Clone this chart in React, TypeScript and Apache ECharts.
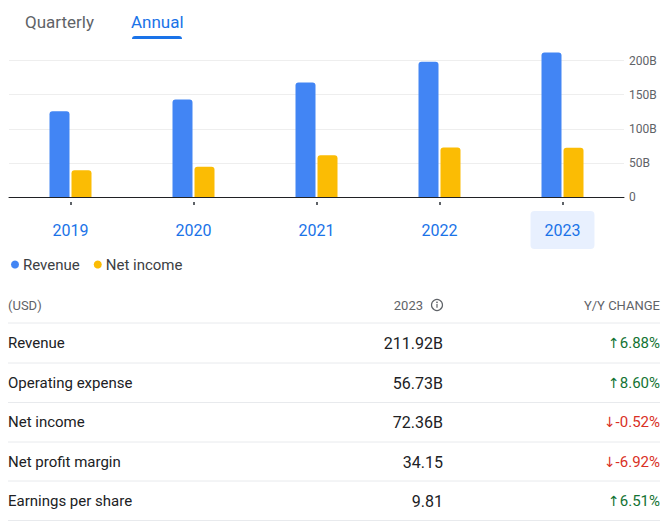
import React, { useEffect, useRef } from "react";
import * as echarts from "echarts";

const years = ["2019", "2020", "2021", "2022", "2023"];
const revenue = [125.84, 143.02, 168.09, 198.27, 211.92];
const netIncome = [39.24, 44.28, 61.27, 72.74, 72.36];
const selectedYear = "2023";
const tabs = ["Quarterly", "Annual"];
const legendNames = ["Revenue", "Net income"];
const tableHeader = ["(USD)", "2023", "Y/Y CHANGE"];
const metricNames = ["Revenue", "Operating expense", "Net income", "Net profit margin", "Earnings per share"];
const metricValues = ["211.92B", "56.73B", "72.36B", "34.15", "9.81"];
const metricChanges = [6.88, 8.6, -0.52, -6.92, 6.51];

const FONT = "Roboto, 'Noto Sans', sans-serif";

export default function App() {
  const ref = useRef<HTMLDivElement>(null);
  useEffect(() => {
    if (!ref.current) return;
    const chart = echarts.init(ref.current, null, { renderer: "svg" });

    const rowY = [343, 383, 422, 462, 501];
    const lineY = [323, 363, 402.5, 442, 481, 520.5];

    const graphics: any[] = [];
    // tabs
    graphics.push({
      type: "text", x: 25, y: 22,
      style: { text: tabs[0], fill: "#5f6368", fontSize: 17, fontFamily: FONT, align: "left", verticalAlign: "middle", textAlign: "left", textVerticalAlign: "middle" },
    });
    graphics.push({
      type: "text", x: 131, y: 22,
      style: { text: tabs[1], fill: "#1a73e8", fontSize: 17, fontFamily: FONT, align: "left", verticalAlign: "middle", textAlign: "left", textVerticalAlign: "middle" },
    });
    graphics.push({
      type: "rect", shape: { x: 132, y: 36, width: 50, height: 3, r: [3, 3, 0, 0] },
      style: { fill: "#1a73e8" },
    });
    // table header
    const hdrStyle = { fill: "#5f6368", fontSize: 13, fontFamily: FONT, verticalAlign: "middle", textVerticalAlign: "middle" };
    graphics.push({ type: "text", x: 8, y: 305, style: { ...hdrStyle, text: tableHeader[0], align: "left", textAlign: "left" } });
    graphics.push({ type: "text", x: 423, y: 305, style: { ...hdrStyle, text: tableHeader[1], align: "right", textAlign: "right" } });
    graphics.push({ type: "text", x: 660, y: 305, style: { ...hdrStyle, text: tableHeader[2], align: "right", textAlign: "right" } });
    // info icon
    graphics.push({ type: "circle", shape: { cx: 437, cy: 305, r: 5.5 }, style: { fill: "none", stroke: "#5f6368", lineWidth: 1.2 } });
    graphics.push({ type: "rect", shape: { x: 436.4, y: 304, width: 1.2, height: 3.8 }, style: { fill: "#5f6368" } });
    graphics.push({ type: "circle", shape: { cx: 437, cy: 302.3, r: 0.8 }, style: { fill: "#5f6368" } });
    // separators
    lineY.forEach((y) => {
      graphics.push({ type: "line", shape: { x1: 8, y1: y, x2: 660, y2: y }, style: { stroke: "#e8eaed", lineWidth: 1 } });
    });
    // rows
    metricNames.forEach((name, i) => {
      const y = rowY[i];
      graphics.push({ type: "text", x: 8, y, style: { text: name, fill: "#202124", fontSize: 15, fontFamily: FONT, align: "left", verticalAlign: "middle", textAlign: "left", textVerticalAlign: "middle" } });
      graphics.push({ type: "text", x: 443, y, style: { text: metricValues[i], fill: "#202124", fontSize: 16, fontFamily: FONT, align: "right", verticalAlign: "middle", textAlign: "right", textVerticalAlign: "middle" } });
      const c = metricChanges[i];
      const up = c >= 0;
      const color = up ? "#137333" : "#d93025";
      const txt = `{ar|${up ? "\u2191" : "\u2193"}}{v|${c.toFixed(2)}%}`;
      graphics.push({
        type: "text", x: 660, y,
        style: {
          text: txt, fill: color, fontSize: 15, fontFamily: FONT, align: "right", verticalAlign: "middle", textAlign: "right", textVerticalAlign: "middle",
          rich: {
            ar: { fill: color, fontSize: 14, fontFamily: "'DejaVu Sans', sans-serif" },
            v: { fill: color, fontSize: 15, fontFamily: FONT },
          },
        },
      });
    });

    chart.setOption({
      animation: false,
      backgroundColor: "#ffffff",
      textStyle: { fontFamily: FONT },
      grid: { left: 9, right: 45, top: 47, bottom: 325, containLabel: false },
      legend: {
        data: legendNames,
        left: 6, top: 252,
        icon: "circle", itemWidth: 8, itemHeight: 8, itemGap: 14,
        textStyle: { color: "#3c4043", fontSize: 15, fontFamily: FONT, padding: [0, 0, 0, -1] },
      },
      xAxis: [
        {
          type: "category",
          data: years,
          axisLine: { show: true, lineStyle: { color: "#202124", width: 1 } },
          axisTick: { show: false },
          axisLabel: {
            margin: 25,
            formatter: (v: string) => (v === selectedYear ? `{sel|${v}}` : `{a|${v}}`),
            rich: {
              a: { color: "#1a73e8", fontSize: 16, fontFamily: FONT, padding: [11, 14, 11, 14], lineHeight: 16 },
              sel: { color: "#1a73e8", fontSize: 16, fontFamily: FONT, padding: [11, 14, 11, 14], lineHeight: 16, backgroundColor: "#e8f0fe", borderRadius: 4 },
            },
          },
        },
        {
          type: "category",
          data: years,
          position: "bottom",
          offset: 5,
          axisLine: { show: false },
          axisTick: { show: true, alignWithLabel: true, length: 3, lineStyle: { color: "#5f6368", width: 2 } },
          axisLabel: { show: false },
        },
      ],
      yAxis: {
        type: "value",
        position: "right",
        min: 0,
        max: 220,
        interval: 50,
        axisLine: { show: false },
        axisTick: { show: false },
        splitLine: { show: true, showMaxLine: false, lineStyle: { color: "#eeeeee", width: 1 } },
        axisLabel: {
          margin: 5,
          showMaxLabel: false,
          color: "#5f6368",
          fontSize: 12,
          fontFamily: FONT,
          formatter: (v: number) => (v === 0 ? "0" : `${v}B`),
        },
      },
      series: [
        {
          name: legendNames[0],
          type: "bar",
          data: revenue,
          barWidth: 20,
          barGap: "10%",
          itemStyle: { color: "#4285f4", borderRadius: [3, 3, 0, 0] },
        },
        {
          name: legendNames[1],
          type: "bar",
          data: netIncome,
          barWidth: 20,
          barGap: "10%",
          itemStyle: { color: "#fbbc04", borderRadius: [3, 3, 0, 0] },
        },
      ],
      graphic: graphics,
    });
    return () => chart.dispose();
  }, []);
  return <div ref={ref} style={{ position: "absolute", left: 0, top: 0, width: 669, height: 522 }} />;
}
